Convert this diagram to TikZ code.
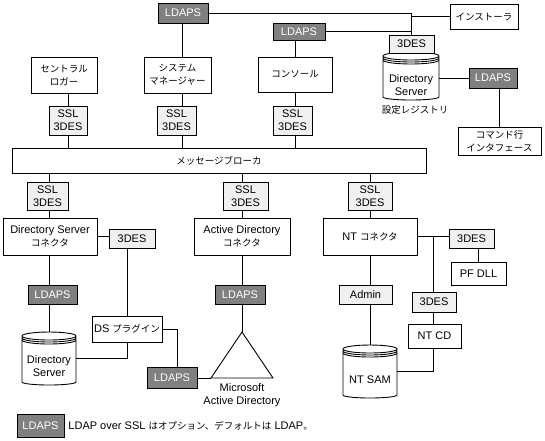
\documentclass[tikz,border=0pt]{standalone}
\usepackage{fontspec}
\setmainfont{Liberation Sans}
\newfontfamily\jpfont{Noto Sans CJK JP}
\newcommand\J[1]{{\jpfont\fontsize{9.5}{13}\selectfont #1}}
\usetikzlibrary{calc}
\definecolor{darkbox}{RGB}{128,128,128}
\definecolor{lightbox}{RGB}{240,240,240}
\newcommand\drawdrum[1]{%
\draw let \p1=(#1.north west), \p2=(#1.south east), \n1={(\x2-\x1)/2} in
 (\x1,\y1-4pt) -- (\x1,\y2+3pt) arc[start angle=180,end angle=360,x radius=\n1,y radius=3pt]
 -- (\x2,\y1-4pt) arc[start angle=0,end angle=180,x radius=\n1,y radius=4pt]
 (\x1,\y1-4pt) arc[start angle=180,end angle=360,x radius=\n1,y radius=4pt]
 (\x1,\y1-6pt) arc[start angle=180,end angle=360,x radius=\n1,y radius=4pt]
 (\x1,\y1-8pt) arc[start angle=180,end angle=360,x radius=\n1,y radius=4pt];}
\begin{document}
\begin{tikzpicture}[x=1pt,y=-1pt,line width=0.9pt,
 every node/.style={inner sep=0pt,align=center,font=\fontsize{11}{13}\selectfont},
 wbox/.style={draw,fill=white},
 lbox/.style={draw,fill=lightbox},
 dbox/.style={draw,fill=darkbox,text=white},
 drum/.style={draw=none,outer sep=0pt}]
\useasboundingbox (0,0) rectangle (545,440);
% column coordinates
\coordinate (colL) at (68,0);
\coordinate (colS) at (182,0);
\coordinate (colK) at (295,0);
\coordinate (colA) at (49,0);
\coordinate (colB) at (242,0);
\coordinate (colC) at (370,0);
\coordinate (colD) at (433,0);
\coordinate (colP) at (478,0);
\coordinate (colR) at (177,0);
\coordinate (colV) at (411.5,0);
% top area
\node[dbox,minimum width=50pt,minimum height=20pt] (ldapsTop) at (183,13) {LDAPS};
\node[dbox,minimum width=52pt,minimum height=17pt] (ldapsCon) at (299,31.5) {LDAPS};
\node[wbox,minimum width=68pt,minimum height=25pt] (installer) at (484,16.5) {\J{インストーラ}};
\node[wbox,minimum width=66pt,minimum height=36pt] (logger) at (64,75) {\J{セントラル}\\\J{ロガー}};
\node[wbox,minimum width=67pt,minimum height=36pt] (sysman) at (177.5,75) {\J{システム}\\\J{マネージャー}};
\node[wbox,minimum width=74pt,minimum height=35pt] (console) at (295,74.5) {\J{コンソール}};
\node[lbox,minimum width=38pt,minimum height=29pt] (ssl1) at (68,120.5) {SSL\\3DES};
\node[lbox,minimum width=39pt,minimum height=29pt] (ssl2) at (176.5,120.5) {SSL\\3DES};
\node[lbox,minimum width=39pt,minimum height=29pt] (ssl3) at (292.5,120.5) {SSL\\3DES};
\node[wbox,minimum width=414pt,minimum height=25pt] (broker) at (219,160.5) {\J{メッセージブローカ}};
% config registry
\node[drum,minimum width=56pt,minimum height=48pt] (cylCfg) at (411,76) {};
\drawdrum{cylCfg}
\node (cfgText) at (411,85.5) {Directory\\Server};
\node[lbox,minimum width=45pt,minimum height=18pt] (des4) at (411.5,44) {3DES};
\node (cfgLabel) at (415,110) {\J{設定レジストリ}};
\node[dbox,minimum width=48pt,minimum height=20pt] (ldapsD) at (493,78) {LDAPS};
\node[wbox,minimum width=83pt,minimum height=28pt] (cmd) at (499.5,141) {\J{コマンド行}\\\J{インタフェース}};
% lower row
\node[lbox,minimum width=41pt,minimum height=28pt] (sslA) at (47.5,196) {SSL\\3DES};
\node[lbox,minimum width=45pt,minimum height=28pt] (sslB) at (245.5,196) {SSL\\3DES};
\node[lbox,minimum width=44pt,minimum height=28pt] (sslC) at (370,196) {SSL\\3DES};
\node[wbox,minimum width=94pt,minimum height=37pt] (dsconn) at (50,236.5) {Directory Server\\\J{コネクタ}};
\node[lbox,minimum width=46pt,minimum height=19pt] (des1) at (132,238.5) {3DES};
\node[wbox,minimum width=96pt,minimum height=37pt] (adconn) at (242,236.5) {Active Directory\\\J{コネクタ}};
\node[wbox,minimum width=94pt,minimum height=37pt] (ntconn) at (370,236.5) {NT \J{コネクタ}};
\node[lbox,minimum width=45pt,minimum height=19pt] (des2) at (471.5,238.5) {3DES};
\node[wbox,minimum width=55pt,minimum height=23pt] (pfdll) at (478.5,273.5) {PF DLL};
\node[dbox,minimum width=49pt,minimum height=19pt] (ldapsA) at (52.5,294.5) {LDAPS};
\node[dbox,minimum width=50pt,minimum height=19pt] (ldapsB) at (240,294.5) {LDAPS};
\node[lbox,minimum width=53pt,minimum height=19pt] (admin) at (365.5,294.5) {Admin};
\node[lbox,minimum width=44pt,minimum height=20pt] (des3) at (434,302) {3DES};
\node[wbox,minimum width=53pt,minimum height=24pt] (ntcd) at (434.5,336) {NT CD};
\node[wbox,minimum width=70pt,minimum height=26pt] (dsplug) at (127,329) {DS \J{プラグイン}};
\node[drum,minimum width=54pt,minimum height=53pt] (cylDS) at (49,358.5) {};
\drawdrum{cylDS}
\node (dsText) at (49,366) {Directory\\Server};
\node[drum,minimum width=54pt,minimum height=53pt] (cylSAM) at (370,371.5) {};
\drawdrum{cylSAM}
\node (samText) at (370,380) {NT SAM};
\node[dbox,minimum width=50pt,minimum height=21pt] (ldapsC) at (172,378) {LDAPS};
\coordinate (apex) at (242,332);
\coordinate (triL) at (211,378);
\coordinate (triR) at (273,378);
\draw (apex) -- (triL) -- (triR) -- cycle;
\node (msText) at (242,395) {Microsoft\\Active Directory};
% legend
\node[dbox,minimum width=47pt,minimum height=23pt] (legBox) at (40.5,425.5) {LDAPS};
\node[anchor=west] (legText) at (68,426) {LDAP over SSL \J{はオプション、デフォルトは} LDAP\J{。}};
% connectors top
\draw (ldapsTop.east) -- (colV |- ldapsTop.east) -- (des4.north);
\draw (installer.west) -- (colV |- installer.west);
\draw (ldapsCon.east) -- (colV |- ldapsCon.east);
\draw (ldapsD.west) -- (cylCfg.east |- ldapsD.west);
\draw (cmd.north) -- (cmd.north |- ldapsD.south);
\draw (colL |- logger.south) -- (colL |- ssl1.north);
\draw (colL |- ssl1.south) -- (colL |- broker.north);
\draw (colS |- ldapsTop.south) -- (colS |- sysman.north);
\draw (colS |- sysman.south) -- (colS |- ssl2.north);
\draw (colS |- ssl2.south) -- (colS |- broker.north);
\draw (colK |- ldapsCon.south) -- (colK |- console.north);
\draw (colK |- console.south) -- (colK |- ssl3.north);
\draw (colK |- ssl3.south) -- (colK |- broker.north);
% connectors lower
\draw (colA |- broker.south) -- (colA |- sslA.north);
\draw (colA |- sslA.south) -- (colA |- dsconn.north);
\draw (colA |- dsconn.south) -- (colA |- ldapsA.north);
\draw (colA |- ldapsA.south) -- (colA |- cylDS.north);
\draw (colB |- broker.south) -- (colB |- sslB.north);
\draw (colB |- sslB.south) -- (colB |- adconn.north);
\draw (colB |- adconn.south) -- (colB |- ldapsB.north);
\draw (colB |- ldapsB.south) -- (apex);
\draw (colC |- broker.south) -- (colC |- sslC.north);
\draw (colC |- sslC.south) -- (colC |- ntconn.north);
\draw (colC |- ntconn.south) -- (colC |- admin.north);
\draw (colC |- admin.south) -- (colC |- cylSAM.north);
\draw (dsconn.east) -- (des1.west |- dsconn.east);
\draw (dsplug.north) -- (dsplug.north |- des1.south);
\draw (dsplug.south) |- (cylDS.east);
\draw (dsplug.east) -| (colR |- ldapsC.north);
\draw (ldapsC.east) -- (triL);
\draw (ntconn.east) -- (des2.west |- ntconn.east);
\draw (colD |- ntconn.east) -- (colD |- des3.north);
\draw (colD |- des3.south) -- (colD |- ntcd.north);
\draw (colD |- ntcd.south) |- (cylSAM.east);
\draw (colP |- des2.south) -- (colP |- pfdll.north);
\end{tikzpicture}
\end{document}
